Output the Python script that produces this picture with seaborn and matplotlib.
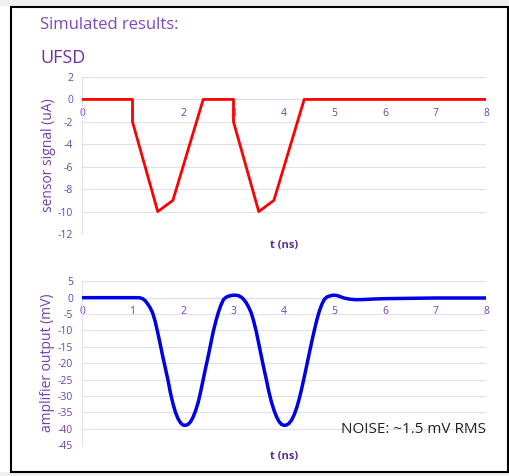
import matplotlib
matplotlib.use("Agg")
import matplotlib.pyplot as plt
import seaborn as sns
from matplotlib.patches import Rectangle

sns.set_style("white")
plt.rcParams["font.family"] = ["Open Sans", "DejaVu Sans"]

# sensor current (uA) vs time (ns)
sensor_t = [0, 1, 1, 1.5, 1.8, 2.4, 3, 3, 3.5, 3.8, 4.4, 8]
sensor_i = [0, 0, -2, -10, -9, 0, 0, -2, -10, -9, 0, 0]

# amplifier output (mV) vs time (ns)
amp_t = [0, 0.5, 1.0, 1.1, 1.15, 1.2, 1.25, 1.3, 1.35, 1.4, 1.45, 1.5, 1.55, 1.6,
         1.65, 1.7, 1.75, 1.8, 1.85, 1.9, 1.95, 2.0, 2.05, 2.1, 2.15, 2.2, 2.25,
         2.3, 2.35, 2.4, 2.45, 2.5, 2.55, 2.6, 2.65, 2.7, 2.75, 2.8, 2.85, 2.9,
         2.95, 3.0, 3.05, 3.1, 3.15, 3.2, 3.25, 3.3, 3.35, 3.4, 3.45, 3.5, 3.55,
         3.6, 3.65, 3.7, 3.75, 3.8, 3.85, 3.9, 3.95, 4.0, 4.05, 4.1, 4.15, 4.2,
         4.25, 4.3, 4.35, 4.4, 4.45, 4.5, 4.55, 4.6, 4.65, 4.7, 4.75, 4.8, 4.85,
         4.9, 4.95, 5.0, 5.05, 5.1, 5.15, 5.2, 5.3, 5.4, 5.5, 5.6, 5.8, 6.0, 6.5,
         7.0, 8.0]
amp_v = [0, 0, 0, 0, -0.05, -0.3, -0.9, -1.9, -3.1, -4.7, -7.3, -10.7, -14.3, -18,
         -21.5, -25, -29, -32.3, -35, -36.9, -38.2, -38.9, -39, -38.7, -37.9, -36.5, -34.5,
         -32, -28.7, -25, -21.3, -17.8, -14, -10.3, -7.2, -4.5, -2.3, -0.6, 0.1, 0.45,
         0.65, 0.75, 0.75, 0.6, 0.2, -0.5, -1.5, -2.9, -4.6, -7.2, -10.3, -14, -17.8,
         -21.5, -25, -28.7, -31.8, -34.3, -36.3, -37.8, -38.7, -39, -38.9, -38.4, -37.4, -35.8,
         -33.7, -31, -27.8, -24.3, -20.7, -17, -13.4, -10, -6.8, -4.1, -2, -0.5, 0.2,
         0.5, 0.7, 0.75, 0.65, 0.4, 0.1, -0.15, -0.45, -0.6, -0.6, -0.55, -0.4, -0.3, -0.2,
         -0.1, -0.1]

x_ticks = [0, 1, 2, 3, 4, 5, 6, 7, 8]
top_yticks = [2, 0, -2, -4, -6, -8, -10, -12]
bot_yticks = [5, 0, -5, -10, -15, -20, -25, -30, -35, -40, -45]

purple = "#7040b0"
grid_col = "#e4dcf6"

fig = plt.figure(figsize=(5.1, 4.76), dpi=100)
fig.patch.set_facecolor("white")

# page frame
fig.patches.append(Rectangle((0, 0), 1, 4 / 476, transform=fig.transFigure,
                             facecolor="#f0f0f0", edgecolor="none", zorder=0))
fig.patches.append(Rectangle((0, 1 - 6 / 476), 1, 6 / 476, transform=fig.transFigure,
                             facecolor="#f0f0f0", edgecolor="none", zorder=0))
fig.patches.append(Rectangle((11 / 510, 4 / 476), 497 / 510, 465 / 476,
                             transform=fig.transFigure, facecolor="none",
                             edgecolor="black", linewidth=1.5, zorder=1))

ax1 = fig.add_axes([82 / 510, 1 - 234 / 476, 404 / 510, 157 / 476])
ax2 = fig.add_axes([82 / 510, 1 - 445 / 476, 404 / 510, 163.7 / 476])

sns.lineplot(x=sensor_t, y=sensor_i, ax=ax1, color="#ff0000", linewidth=2.0,
             estimator=None, sort=False, zorder=5)
sns.lineplot(x=amp_t, y=amp_v, ax=ax2, color="#0000e6", linewidth=2.5,
             estimator=None, sort=False, zorder=5)

for ax, yt in [(ax1, top_yticks), (ax2, bot_yticks)]:
    ax.set_xlim(0, 8)
    ax.set_ylim(min(yt), max(yt))
    ax.set_xticks(x_ticks)
    ax.set_yticks(yt)
    ax.set_xticklabels([str(v) for v in x_ticks])
    ax.set_yticklabels([str(v) for v in yt])
    ax.grid(axis="y", color=grid_col, linewidth=0.8)
    ax.set_axisbelow(True)
    ax.spines["top"].set_visible(False)
    ax.spines["right"].set_visible(False)
    ax.spines["left"].set_color(grid_col)
    ax.spines["bottom"].set_position(("data", 0))
    ax.spines["bottom"].set_color(grid_col)
    ax.spines["bottom"].set_zorder(1)
    ax.tick_params(axis="x", length=0, pad=6, labelsize=7.5, labelcolor=purple)
    ax.tick_params(axis="y", length=0, pad=6.5, labelsize=7.5, labelcolor=purple)
    ax.set_xlabel("")
    ax.text(0.5, -0.072, "t (ns)", transform=ax.transAxes, ha="center", va="center",
            fontsize=8, fontweight="bold", color="#5a2d91")

ax1.set_ylabel("sensor signal (uA)", fontsize=10, color=purple, va="center")
ax2.set_ylabel("amplifier output (mV)", fontsize=10, color=purple, va="center")
ax1.yaxis.set_label_coords(-34 / 404, 0.5)
ax2.yaxis.set_label_coords(-34 / 404, 0.5)

ax2.text(1.0, 0.092, "NOISE: ~1.5 mV RMS", transform=ax2.transAxes, ha="right",
         va="center", fontsize=11, color="#222222")

fig.text(40 / 510, 1 - 25 / 476, "Simulated results:", ha="left", va="center",
         fontsize=12, color="#7b48c0")
fig.text(40 / 510, 1 - 58 / 476, "UFSD", ha="left", va="center",
         fontsize=13, color="#7030a0")

fig.savefig("out.png", dpi=100)
